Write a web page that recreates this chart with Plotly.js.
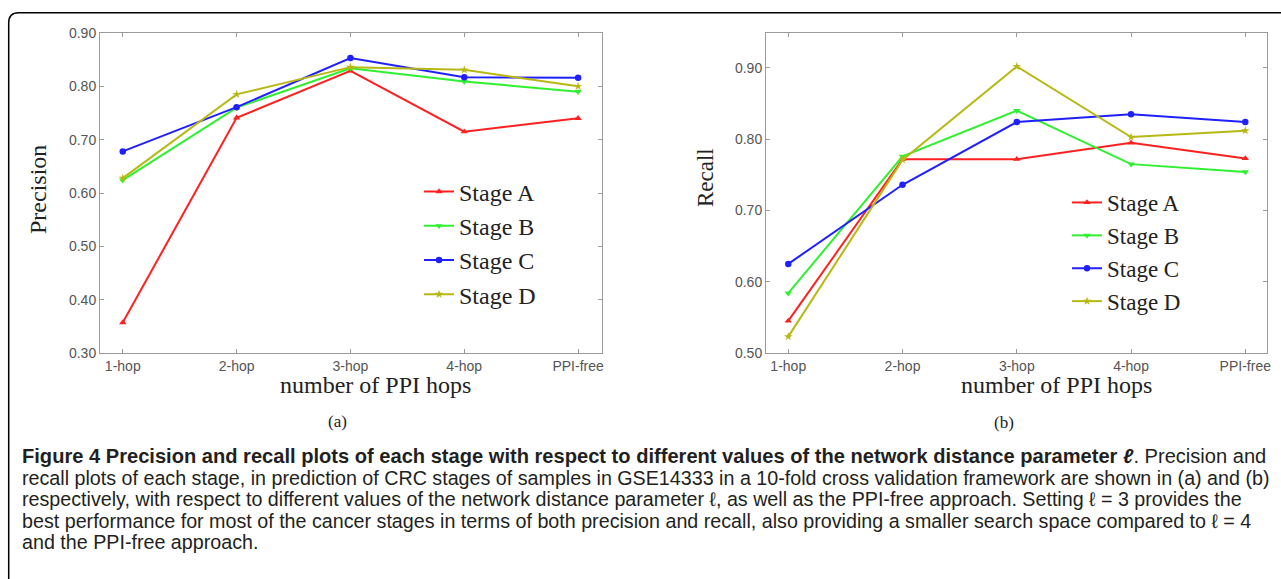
<!DOCTYPE html>
<html>
<head>
<meta charset="utf-8">
<script src="https://cdn.plot.ly/plotly-3.0.1.min.js"></script>
<style>
html,body{margin:0;padding:0;background:#fff;}
#chart{width:1281px;height:579px;}
</style>
</head>
<body>
<div id="chart"></div>
<script>
// ---- data ----
const categories = ['1-hop', '2-hop', '3-hop', '4-hop', 'PPI-free'];
const stageNames = ['Stage A', 'Stage B', 'Stage C', 'Stage D'];

const precisionA = [0.357, 0.741, 0.829, 0.715, 0.740];
const precisionB = [0.624, 0.760, 0.834, 0.809, 0.790];
const precisionC = [0.678, 0.761, 0.853, 0.817, 0.816];
const precisionD = [0.628, 0.785, 0.836, 0.831, 0.800];

const recallA = [0.545, 0.772, 0.772, 0.795, 0.773];
const recallB = [0.584, 0.776, 0.840, 0.765, 0.754];
const recallC = [0.625, 0.736, 0.824, 0.835, 0.824];
const recallD = [0.523, 0.771, 0.902, 0.803, 0.812];

const precisionTicks = [0.30, 0.40, 0.50, 0.60, 0.70, 0.80, 0.90];
const recallTicks = [0.50, 0.60, 0.70, 0.80, 0.90];

const captionLines = [
  '<b>Figure 4 Precision and recall plots of each stage with respect to different values of the network distance parameter <i>ℓ</i></b>. Precision and',
  'recall plots of each stage, in prediction of CRC stages of samples in GSE14333 in a 10-fold cross validation framework are shown in (a) and (b)',
  'respectively, with respect to different values of the network distance parameter ℓ, as well as the PPI-free approach. Setting ℓ = 3 provides the',
  'best performance for most of the cancer stages in terms of both precision and recall, also providing a smaller search space compared to ℓ = 4',
  'and the PPI-free approach.'
];

// ---- styles ----
const W = 1281, H = 579;
const px = v => v / W;
const py = v => 1 - v / H;
const colors = ['#ff2020', '#2ef02e', '#2020ff', '#b8b814'];
const symbols = ['triangle-up', 'triangle-down', 'circle', 'star'];
const serif = 'Liberation Serif, Times New Roman, serif';
const sans = 'Liberation Sans, Arial, sans-serif';

const precisionSeries = [precisionA, precisionB, precisionC, precisionD];
const recallSeries = [recallA, recallB, recallC, recallD];

const traces = [];
precisionSeries.forEach((ys, i) => {
  traces.push({
    x: categories, y: ys, name: stageNames[i], type: 'scatter', mode: 'lines+markers',
    xaxis: 'x', yaxis: 'y', legend: 'legend',
    line: {color: colors[i], width: 2},
    marker: {color: colors[i], symbol: symbols[i], size: 6.5}
  });
});
recallSeries.forEach((ys, i) => {
  traces.push({
    x: categories, y: ys, name: stageNames[i], type: 'scatter', mode: 'lines+markers',
    xaxis: 'x2', yaxis: 'y2', legend: 'legend2',
    line: {color: colors[i], width: 2},
    marker: {color: colors[i], symbol: symbols[i], size: 6.5}
  });
});

const axisCommon = {
  showline: true, mirror: 'ticks', linecolor: '#9a9a9a', linewidth: 1,
  ticks: 'inside', ticklen: 4, tickcolor: '#9a9a9a', tickwidth: 1,
  showgrid: false, zeroline: false, fixedrange: true,
  tickfont: {family: sans, size: 14, color: '#555'}
};

const annotations = [
  {text: 'Precision', x: px(38), y: py(190), textangle: -90, font: {family: serif, size: 24, color: '#222'}},
  {text: 'Recall', x: px(705), y: py(177), textangle: -90, font: {family: serif, size: 23, color: '#222'}},
  {text: 'number of PPI hops', x: px(375), y: py(385), font: {family: serif, size: 24, color: '#222'}},
  {text: 'number of PPI hops', x: px(1056), y: py(385), font: {family: serif, size: 24, color: '#222'}},
  {text: '(a)', x: px(337), y: py(421), font: {family: serif, size: 17, color: '#222'}},
  {text: '(b)', x: px(1004), y: py(422), font: {family: serif, size: 17, color: '#222'}}
].map(a => Object.assign({xref: 'paper', yref: 'paper', showarrow: false, xanchor: 'center', yanchor: 'middle'}, a));

const captionY = [456, 478, 499, 521, 542];
const captionSize = [20.1, 19.7, 19.7, 19.7, 19.7];
captionLines.forEach((t, i) => {
  annotations.push({
    text: t, xref: 'paper', yref: 'paper', x: px(20), y: py(captionY[i]),
    xanchor: 'left', yanchor: 'middle', showarrow: false, align: 'left',
    font: {family: 'Liberation Sans, Arial, sans-serif', size: captionSize[i], color: '#231f20'}
  });
});

const layout = {
  width: W, height: H,
  margin: {l: 0, r: 0, t: 0, b: 0},
  paper_bgcolor: '#fff', plot_bgcolor: '#fff',
  xaxis: Object.assign({}, axisCommon, {
    domain: [px(100), px(602)], anchor: 'y', type: 'category', range: [-0.2, 4.21]
  }),
  yaxis: Object.assign({}, axisCommon, {
    domain: [py(353), py(33)], anchor: 'x', range: [0.30, 0.90],
    tickvals: precisionTicks, tickformat: '.2f'
  }),
  xaxis2: Object.assign({}, axisCommon, {
    domain: [px(766), px(1267)], anchor: 'y2', type: 'category', range: [-0.195, 4.19]
  }),
  yaxis2: Object.assign({}, axisCommon, {
    domain: [py(353), py(33)], anchor: 'x2', range: [0.50, 0.949],
    tickvals: recallTicks, tickformat: '.2f'
  }),
  legend: {
    x: px(419), y: py(243), xanchor: 'left', yanchor: 'middle',
    bgcolor: 'rgba(0,0,0,0)', borderwidth: 0,
    font: {family: serif, size: 24, color: '#222'}
  },
  legend2: {
    x: px(1067), y: py(252), xanchor: 'left', yanchor: 'middle',
    bgcolor: 'rgba(0,0,0,0)', borderwidth: 0,
    font: {family: serif, size: 23, color: '#222'}
  },
  annotations: annotations,
  shapes: [{
    type: 'path', xref: 'paper', yref: 'paper',
    path: 'M ' + px(8.7) + ',' + (-0.05) + ' L ' + px(8.7) + ',' + py(22.7) +
          ' Q ' + px(8.7) + ',' + py(12.7) + ' ' + px(18.7) + ',' + py(12.7) +
          ' L 1.05,' + py(12.7),
    line: {color: '#000', width: 1.5}
  }],
  showlegend: true
};

Plotly.newPlot('chart', traces, layout, {displayModeBar: false, staticPlot: true});
</script>
</body>
</html>
